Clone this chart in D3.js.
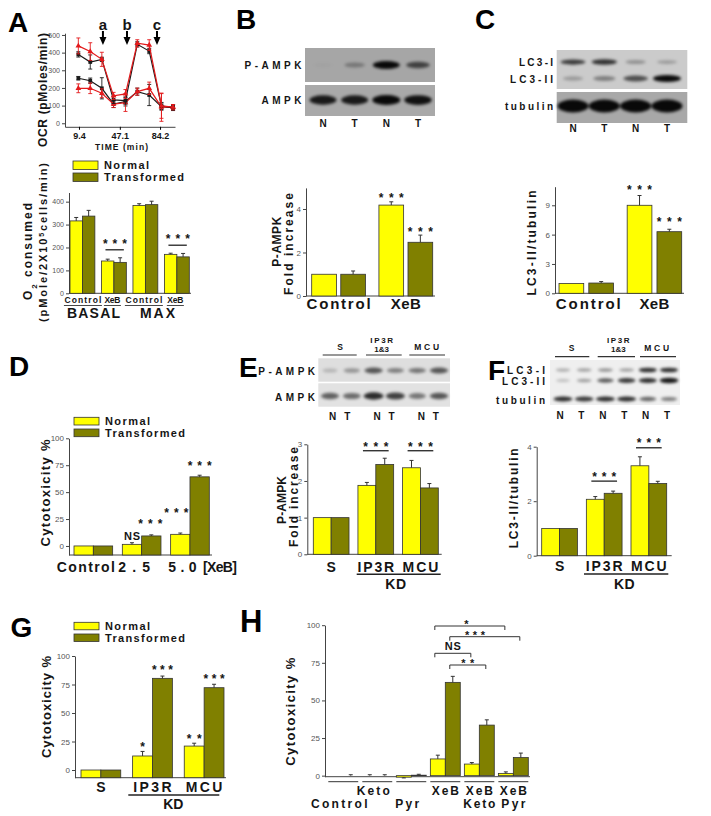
<!DOCTYPE html>
<html><head><meta charset="utf-8">
<script src="https://cdn.jsdelivr.net/npm/d3@7"></script>
<style>
body{margin:0;background:#fff}
svg text{font-family:"Liberation Sans",Arial,Helvetica,sans-serif}
</style>
</head><body>
<svg id="c" width="711" height="816"></svg>
<script>
// ================= DATA =================
// Panel A (top): OCR time course
const ocrTime = [8.8, 19.8, 30.5, 41.3, 52.3, 63.2, 74.2, 85.5, 96.2];
const ocrTicks = [9.4, 47.1, 84.2];
const ocrYTicks = [0, 100, 200, 300, 400, 500];
const ocrBlackHigh = [390, 347, 362, 132, 128, 447, 409, 98, 87];
const ocrBlackHighErr = [15, 40, 12, 20, 20, 15, 15, 20, 15];
const ocrRedHigh = [438, 406, 362, 155, 166, 453, 443, 98, 91];
const ocrRedHighErr = [45, 50, 40, 20, 25, 20, 30, 70, 15];
const ocrBlackLow = [255, 241, 198, 109, 123, 179, 160, 94, 91];
const ocrBlackLowErr = [10, 15, 60, 20, 25, 20, 60, 20, 15];
const ocrRedLow = [198, 198, 170, 109, 117, 179, 198, 91, 91];
const ocrRedLowErr = [25, 30, 25, 20, 50, 20, 35, 80, 15];
const arrowTimes = [31.5, 53.7, 81.4];
const arrowLabels = ["a", "b", "c"];

// Panel A (bottom): O2 consumed
const aGroups = ["BASAL Control", "BASAL XeB", "MAX Control", "MAX XeB"];
const aTickLabels = ["Control", "XeB", "Control", "XeB"];
const aNormal = [316, 141, 383, 170];
const aNormalErr = [15, 8, 8, 5];
const aTrans = [337, 135, 387, 159];
const aTransErr = [25, 20, 15, 15];

// Panel B
const bGroups = ["Control", "XeB"];
const bNormal = [1.0, 4.18];
const bNormalErr = [0, 0.15];
const bTrans = [1.0, 2.47];
const bTransErr = [0.15, 0.33];
const bLanes = ["N", "T", "N", "T"];
const bPAMPK = [0.03, 0.3, 1.0, 0.65];
const bAMPK = [0.9, 0.9, 1.0, 0.95];

// Panel C
const cGroups = ["Control", "XeB"];
const cNormal = [1.0, 9.0];
const cNormalErr = [0, 1.0];
const cTrans = [1.05, 6.3];
const cTransErr = [0.15, 0.25];
const cLanes = ["N", "T", "N", "T"];
const cLC3I = [0.75, 0.8, 0.3, 0.25];
const cLC3II = [0.25, 0.4, 0.65, 1.0];
const cTubulin = [1, 1, 1, 1];

// Panel D
const dGroups = ["Control", "2.5", "5.0"];
const dNormal = [0, 1.5, 10.8];
const dNormalErr = [0, 1.5, 1.2];
const dTrans = [0, 9.3, 64.2];
const dTransErr = [0, 1.0, 1.5];

// Panel E
const kdGroups = ["S", "IP3R", "MCU"];
const eNormal = [1.0, 1.88, 2.36];
const eNormalErr = [0, 0.08, 0.2];
const eTrans = [1.0, 2.45, 1.81];
const eTransErr = [0, 0.17, 0.12];
const eLanes = ["N", "T", "N", "T", "N", "T"];
const ePAMPK = [0.2, 0.35, 0.65, 0.45, 0.5, 0.65];
const eAMPK = [0.6, 0.55, 0.85, 0.75, 0.5, 0.65];

// Panel F
const fNormal = [1.0, 2.07, 3.30];
const fNormalErr = [0, 0.1, 0.33];
const fTrans = [1.0, 2.29, 2.65];
const fTransErr = [0, 0.08, 0.08];
const fLC3I = [0.3, 0.35, 0.4, 0.35, 0.85, 0.85];
const fLC3II = [0.2, 0.35, 0.65, 0.8, 0.85, 0.95];
const fTubulin = [0.85, 0.8, 0.85, 0.85, 0.6, 0.5];

// Panel G
const gNormal = [0, 12.3, 21];
const gNormalErr = [0, 4, 2.5];
const gTrans = [0, 80.4, 72.2];
const gTransErr = [0, 2, 3];

// Panel H
const hGroups = ["Control", "Keto", "Pyr", "XeB", "XeB Keto", "XeB Pyr"];
const hRow1 = ["", "Keto", "", "XeB", "XeB", "XeB"];
const hRow2 = ["Control", "", "Pyr", "", "Keto", "Pyr"];
const hNormal = [0, 0, -1, 11.1, 7.7, 1.5];
const hNormalErr = [0, 0.6, 0.5, 2.5, 1, 1];
const hTrans = [0, 0, 0.3, 62, 33.6, 12];
const hTransErr = [0.6, 0.6, 0.6, 4, 3.5, 3];

const legendLabels = ["Normal", "Transformed"];

// ================= DRAWING =================
const YEL = "#ffff00", OLV = "#808000", INK = "#151515";
const FONT = '"Liberation Sans", Arial, Helvetica, sans-serif';
const svg = d3.select("#c");
const defs = svg.append("defs");
defs.append("filter").attr("id", "blur").attr("x", "-50%").attr("y", "-100%")
  .attr("width", "200%").attr("height", "300%")
  .append("feGaussianBlur").attr("stdDeviation", 1.5);

function txt(g, x, y, s, o = {}) {
  const t = g.append("text")
    .attr("text-anchor", o.anchor || "middle")
    .attr("font-size", o.size || 10)
    .attr("font-weight", o.weight || "bold")
    .attr("fill", o.fill || INK)
    .attr("dy", o.dy || "0.35em");
  if (o.rot) t.attr("transform", `translate(${x},${y}) rotate(-90)`);
  else t.attr("x", x).attr("y", y);
  if (o.parts) {
    o.parts.forEach(p => {
      const ts = t.append("tspan").text(p.t);
      if (p.shift) ts.attr("baseline-shift", p.shift).attr("font-size", p.size);
    });
  } else t.text(s);
  if (o.len) t.attr("textLength", o.len).attr("lengthAdjust", "spacing");
  return t;
}
function line(g, x1, y1, x2, y2, w = 1, c = "#222") {
  return g.append("line").attr("x1", x1).attr("y1", y1).attr("x2", x2).attr("y2", y2)
    .attr("stroke", c).attr("stroke-width", w);
}
function stars(g, x, y, s, len, size = 12) {
  return txt(g, x, y, s, { size, len, dy: "0.58em" });
}
function panelLetter(x, y, s, size = 28) {
  svg.append("text").attr("x", x).attr("y", y).attr("font-size", size)
    .attr("font-weight", "bold").attr("fill", "#000").text(s);
}
function legend(g, x, y1, y2, h) {
  [[y1, YEL], [y2, OLV]].forEach(([yy, c], i) => {
    g.append("rect").attr("x", x).attr("y", yy).attr("width", 25).attr("height", h)
      .attr("fill", c).attr("stroke", "#333").attr("stroke-width", 0.8);
    txt(g, x + 31, yy + h / 2, legendLabels[i], { anchor: "start", size: 11, len: i ? 80 : 45 });
  });
}
function yAxis(g, y, xPos, ticks, fs = 8) {
  const ag = g.append("g").attr("transform", `translate(${xPos},0)`)
    .call(d3.axisLeft(y).tickValues(ticks).tickSize(3).tickSizeOuter(0).tickPadding(2).tickFormat(d3.format("d")));
  ag.attr("font-family", FONT).attr("font-size", fs);
  ag.select(".domain").attr("stroke", "#444");
  ag.selectAll(".tick line").attr("stroke", "#444");
  ag.selectAll(".tick text").attr("fill", "#555");
  return ag;
}
function barChart(o) {
  const g = o.g, y = o.y;
  const x = d3.scaleBand().domain(o.groups).range(o.xr).paddingInner(o.pi).paddingOuter(0);
  const xs = d3.scaleBand().domain(["N", "T"]).range([0, x.bandwidth()]).paddingInner(o.sub || 0);
  yAxis(g, y, o.ax, o.ticks, o.tfs || 8);
  const y0 = y.domain()[0];
  line(g, o.ax, y(y0), o.xEnd, y(y0), 1, "#444");
  const base = o.base !== undefined ? o.base : y0;
  const series = [{ k: "N", v: o.N, e: o.eN, c: YEL }, { k: "T", v: o.T, e: o.eT, c: OLV }];
  series.forEach(s => {
    g.append("g").selectAll("rect").data(o.groups).join("rect")
      .attr("x", d => x(d) + xs(s.k))
      .attr("width", xs.bandwidth())
      .attr("y", (d, i) => Math.min(y(s.v[i]), y(base)))
      .attr("height", (d, i) => Math.abs(y(base) - y(s.v[i])))
      .attr("fill", s.c).attr("stroke", "#333").attr("stroke-width", 0.8);
    o.groups.forEach((d, i) => {
      const e = s.e[i];
      if (!e) return;
      const cx = x(d) + xs(s.k) + xs.bandwidth() / 2;
      const v = s.v[i], v2 = v >= 0 ? v + e : v - e;
      line(g, cx, y(v), cx, y(v2), 1, "#333");
      line(g, cx - 2, y(v2), cx + 2, y(v2), 1, "#333");
    });
  });
  const vals = { N: o.N, T: o.T }, errs = { N: o.eN, T: o.eT };
  return {
    x, xs,
    cx: (i, k) => x(o.groups[i]) + xs(k) + xs.bandwidth() / 2,
    gc: i => x(o.groups[i]) + x.bandwidth() / 2,
    top: (i, k) => y(vals[k][i] + errs[k][i]),
    maxTop: i => Math.min(y(o.N[i] + o.eN[i]), y(o.T[i] + o.eT[i]))
  };
}
function blotBands(g, xPos, vals, cy, w, h) {
  g.append("g").attr("filter", "url(#blur)").selectAll("ellipse").data(vals).join("ellipse")
    .attr("cx", (d, i) => xPos(i)).attr("cy", cy)
    .attr("rx", d => w / 2 * (0.65 + 0.35 * d)).attr("ry", d => h / 2 * (0.5 + 0.5 * d))
    .attr("fill", "#000").attr("fill-opacity", d => Math.min(1, d * 0.95));
}
function rect(g, x, y, w, h, fill) {
  return g.append("rect").attr("x", x).attr("y", y).attr("width", w).attr("height", h).attr("fill", fill);
}

// ---------- Panel A top ----------
{
  const g = svg.append("g");
  panelLetter(8, 32, "A");
  const x = d3.scaleLinear().domain([-3.5, 98]).range([65, 175]);
  const y = d3.scaleLinear().domain([-20, 510]).range([126.8, 33.2]);
  yAxis(g, y, 65, ocrYTicks, 7);
  const xa = g.append("g").attr("transform", "translate(0,126.8)")
    .call(d3.axisBottom(x).tickValues(ocrTicks).tickSize(3).tickSizeOuter(0).tickPadding(3).tickFormat(d3.format(".1f")));
  xa.attr("font-family", FONT).attr("font-size", 9).attr("font-weight", "bold");
  xa.select(".domain").attr("stroke", "#444");
  xa.selectAll(".tick text").attr("fill", INK);
  txt(g, 121.5, 147, "TIME (min)", { size: 8.5, len: 53 });
  txt(g, 42.5, 90, "OCR (pMoles/min)", { size: 12, len: 114, rot: true });
  const series = [
    { v: ocrBlackLow, e: ocrBlackLowErr, c: "#1a1a1a", sym: d3.symbolSquare },
    { v: ocrRedLow, e: ocrRedLowErr, c: "#e31a1c", sym: d3.symbolTriangle },
    { v: ocrBlackHigh, e: ocrBlackHighErr, c: "#1a1a1a", sym: d3.symbolSquare },
    { v: ocrRedHigh, e: ocrRedHighErr, c: "#e31a1c", sym: d3.symbolTriangle }
  ];
  series.forEach(s => {
    s.v.forEach((v, i) => {
      const cx = x(ocrTime[i]);
      line(g, cx, y(v - s.e[i]), cx, y(v + s.e[i]), 0.9, s.c);
      line(g, cx - 2, y(v - s.e[i]), cx + 2, y(v - s.e[i]), 0.9, s.c);
      line(g, cx - 2, y(v + s.e[i]), cx + 2, y(v + s.e[i]), 0.9, s.c);
    });
    g.append("path").datum(s.v)
      .attr("d", d3.line().x((d, i) => x(ocrTime[i])).y(d => y(d)))
      .attr("fill", "none").attr("stroke", s.c).attr("stroke-width", 1.2);
    g.append("g").selectAll("path").data(s.v).join("path")
      .attr("transform", (d, i) => `translate(${x(ocrTime[i])},${y(d)})`)
      .attr("d", d3.symbol().type(s.sym).size(14)).attr("fill", s.c);
  });
  arrowTimes.forEach((t, i) => {
    const ax = x(t);
    txt(g, ax, 25, arrowLabels[i], { size: 15 });
    line(g, ax, 31, ax, 38, 2, "#000");
    g.append("path").attr("d", `M${ax - 3.5},37 L${ax + 3.5},37 L${ax},45 Z`).attr("fill", "#000");
  });
}

// ---------- Panel A bottom ----------
{
  const g = svg.append("g");
  legend(g, 73, 161, 173, 8.5);
  const y = d3.scaleLinear().domain([0, 440]).range([293.3, 192.5]);
  const r = barChart({ g, groups: aGroups, N: aNormal, T: aTrans, eN: aNormalErr, eT: aTransErr,
    y, xr: [70, 189.3], pi: 0.21, sub: 0, ax: 69, xEnd: 191, ticks: [0, 100, 200, 300, 400], tfs: 7 });
  [1, 3].forEach(i => {
    const ly = r.maxTop(i) - 8;
    const x0 = r.x(aGroups[i]);
    line(g, x0 + 4, ly, x0 + r.x.bandwidth() - 2.5, ly, 1.3, "#222");
    stars(g, r.gc(i) + 1, ly - 9, "* * *", 24, 12);
  });
  aGroups.forEach((d, i) => {
    const c = i === 0 ? r.gc(i) + 0.5 : r.gc(i) - 1.5;
    const w = i % 2 ? 16 : 37;
    txt(g, c, 300.5, aTickLabels[i], { size: 8.5, len: w });
    line(g, c - w / 2 - 0.5, 305.5, c + w / 2 + 0.5, 305.5, 0.9, "#333");
  });
  txt(g, 93.5, 313.5, "BASAL", { size: 14, len: 53 });
  txt(g, 157.5, 313.5, "MAX", { size: 14, len: 35 });
  txt(g, 28, 251.5, null, { size: 12, len: 97, rot: true,
    parts: [{ t: "O" }, { t: "2", shift: "sub", size: 8 }, { t: " consumed" }] });
  txt(g, 43.5, 242.5, null, { size: 11, len: 159, rot: true,
    parts: [{ t: "(pMole/2X10" }, { t: "5", shift: "super", size: 7 }, { t: "cells/min)" }] });
}

// ---------- Panel B ----------
{
  const g = svg.append("g");
  panelLetter(236, 29, "B");
  rect(g, 305, 48, 130, 34, "#a6a6a6");
  rect(g, 305, 85, 130, 31, "#a9a9a9");
  const lx = d3.scalePoint().domain(d3.range(bLanes.length)).range([323, 418]);
  blotBands(g, lx, bPAMPK, 65, 27, 8);
  blotBands(g, lx, bAMPK, 100, 28, 10);
  txt(g, 301.5, 65, "P-AMPK", { anchor: "end", size: 10, len: 57 });
  txt(g, 301.5, 100, "AMPK", { anchor: "end", size: 10, len: 40 });
  bLanes.forEach((l, i) => txt(g, lx(i), 123, l, { size: 10 }));
  const y = d3.scaleLinear().domain([0, 4.97]).range([296, 187.9]);
  const r = barChart({ g, groups: bGroups, N: bNormal, T: bTrans, eN: bNormalErr, eT: bTransErr,
    y, xr: [311.7, 432.7], pi: 0.2, sub: 0.15, ax: 306, xEnd: 435, ticks: [0, 2, 4] });
  stars(g, r.cx(1, "N"), r.top(1, "N") - 7, "* * *", 25);
  stars(g, r.cx(1, "T"), r.top(1, "T") - 6, "* * *", 25);
  txt(g, r.gc(0), 304, "Control", { size: 15, len: 64 });
  txt(g, r.gc(1), 304, "XeB", { size: 15, len: 30 });
  txt(g, 276.7, 241.7, "P-AMPK", { size: 12, len: 50, rot: true });
  txt(g, 288.5, 244, "Fold increase", { size: 12, len: 102, rot: true });
}

// ---------- Panel C ----------
{
  const g = svg.append("g");
  panelLetter(475, 29, "C");
  rect(g, 556.7, 50, 130.6, 39, "#cbcbcb");
  rect(g, 556.7, 92, 130.6, 31, "#a8a8a8");
  const lx = d3.scalePoint().domain(d3.range(cLanes.length)).range([573, 667]);
  blotBands(g, lx, cLC3I, 62, 27, 6);
  blotBands(g, lx, cLC3II, 78.5, 28, 7);
  blotBands(g, lx, cTubulin, 106, 31, 13);
  txt(g, 553, 62, "LC3-I", { anchor: "end", size: 10, len: 34 });
  txt(g, 553, 79, "LC3-II", { anchor: "end", size: 10, len: 43 });
  txt(g, 553, 106, "tubulin", { anchor: "end", size: 10, len: 48 });
  cLanes.forEach((l, i) => txt(g, lx(i), 128, l, { size: 10 }));
  const y = d3.scaleLinear().domain([0, 10.9]).range([293.3, 186.7]);
  const r = barChart({ g, groups: cGroups, N: cNormal, T: cTrans, eN: cNormalErr, eT: cTransErr,
    y, xr: [559, 681.7], pi: 0.2, sub: 0.17, ax: 555, xEnd: 684, ticks: [0, 3, 6, 9] });
  stars(g, r.cx(1, "N"), r.top(1, "N") - 8.5, "* * *", 25);
  stars(g, r.cx(1, "T"), r.top(1, "T") - 10, "* * *", 25);
  txt(g, r.gc(0) + 2, 304, "Control", { size: 15, len: 65 });
  txt(g, r.gc(1), 304, "XeB", { size: 15, len: 30 });
  txt(g, 531.7, 243, "LC3-II/tubulin", { size: 12, len: 105, rot: true });
}

// ---------- Panel D ----------
{
  const g = svg.append("g");
  panelLetter(9, 376, "D");
  legend(g, 74, 417.3, 429, 7.7);
  const y = d3.scaleLinear().domain([-8.4, 100]).range([555, 438.3]);
  const r = barChart({ g, groups: dGroups, N: dNormal, T: dTrans, eN: dNormalErr, eT: dTransErr,
    y, xr: [74, 209.3], pi: 0.2, sub: 0, ax: 69, xEnd: 212, ticks: [0, 25, 50, 75, 100], tfs: 8 });
  txt(g, r.cx(1, "N"), r.top(1, "N") - 7, "NS", { size: 11, len: 16 });
  stars(g, r.cx(1, "T") - 1, r.top(1, "T") - 14, "* * *", 24);
  stars(g, r.cx(2, "N") - 4, r.top(2, "N") - 23, "* * *", 24);
  stars(g, r.cx(2, "T"), r.top(2, "T") - 12, "* * *", 24);
  const lw = [58, 31.7, 28.4];
  dGroups.forEach((d, i) => txt(g, r.gc(i) - 7.5, 566.7, d, { size: 14, len: lw[i] }));
  txt(g, 220, 566.7, "[XeB]", { size: 14, len: 34 });
  txt(g, 45, 493, "Cytotoxicity %", { size: 13, len: 107, rot: true });
}

// ---------- Panel E ----------
{
  const g = svg.append("g");
  panelLetter(239, 377, "E");
  const hdr = [{ x: 340, t: ["S"], l: [322.7, 356.7] }, { x: 381.7, t: ["IP3R", "1&3"], l: [366, 401.7] }, { x: 426.7, t: ["MCU"], l: [409.3, 445] }];
  hdr.forEach(h => {
    if (h.t.length === 2) { txt(g, h.x, 340.3, h.t[0], { size: 8, len: 22.7 }); txt(g, h.x, 348.8, h.t[1], { size: 8 }); }
    else txt(g, h.x, 347, h.t[0], { size: 8.5, len: h.t[0].length > 1 ? 25 : null });
    line(g, h.l[0], 355, h.l[1], 355, 1.2, "#333");
  });
  rect(g, 318.3, 358.3, 131.7, 23.4, "#dedede");
  rect(g, 318.3, 383.3, 131.7, 23.4, "#e2e2e2");
  const bx = d3.scalePoint().domain(d3.range(eLanes.length)).range([330, 439]);
  blotBands(g, bx, ePAMPK, 370.5, 21, 7);
  blotBands(g, bx, eAMPK, 396, 21, 8);
  txt(g, 315, 371, "P-AMPK", { anchor: "end", size: 10, len: 56.7 });
  txt(g, 315, 397.7, "AMPK", { anchor: "end", size: 10, len: 40 });
  const gp = d3.scalePoint().domain(kdGroups).range([339.7, 428.3]);
  eLanes.forEach((l, i) => txt(g, gp(kdGroups[Math.floor(i / 2)]) + (i % 2 ? 7.5 : -7), 416.7, l, { size: 10 }));
  const y = d3.scaleLinear().domain([0, 3]).range([554.3, 444.3]);
  const r = barChart({ g, groups: kdGroups, N: eNormal, T: eTrans, eN: eNormalErr, eT: eTransErr,
    y, xr: [313.3, 438.3], pi: 0.2, sub: 0, ax: 307.3, xEnd: 441.7, ticks: [0, 1, 2, 3] });
  [[1, 7.5], [2, 9.7]].forEach(([i, off]) => {
    const ly = r.maxTop(i) - off;
    const x0 = r.x(kdGroups[i]);
    line(g, x0 + 5, ly, x0 + r.x.bandwidth() - 5, ly, 1.3, "#222");
    stars(g, r.gc(i), ly - 6.5, "* * *", 25);
  });
  txt(g, r.gc(0), 566.7, "S", { size: 14 });
  txt(g, r.gc(1), 566.7, "IP3R", { size: 14, len: 36.7 });
  txt(g, r.gc(2), 566.7, "MCU", { size: 14, len: 35.7 });
  line(g, 356.7, 574.3, 440.7, 574.3, 1.4, "#222");
  txt(g, 395.7, 584.3, "KD", { size: 14, len: 20.7 });
  txt(g, 281.7, 500, "P-AMPK", { size: 12, len: 48, rot: true });
  txt(g, 293.3, 497, "Fold increase", { size: 12, len: 100, rot: true });
}

// ---------- Panel F ----------
{
  const g = svg.append("g");
  panelLetter(488, 380, "F");
  const hdr = [{ x: 571.7, t: ["S"], l: [555, 589.3] }, { x: 618.3, t: ["IP3R", "1&3"], l: [597.7, 635] }, { x: 656.7, t: ["MCU"], l: [640, 676] }];
  hdr.forEach(h => {
    if (h.t.length === 2) { txt(g, h.x, 340.3, h.t[0], { size: 8, len: 22.7 }); txt(g, h.x, 348.8, h.t[1], { size: 8 }); }
    else txt(g, h.x, 348.3, h.t[0], { size: 8.5, len: h.t[0].length > 1 ? 25 : null });
    line(g, h.l[0], 356.7, h.l[1], 356.7, 1.2, "#333");
  });
  rect(g, 550, 360, 130, 45, "#efefef");
  const bx = d3.scalePoint().domain(d3.range(eLanes.length)).range([563, 669]);
  blotBands(g, bx, fLC3I, 370, 19, 5);
  blotBands(g, bx, fLC3II, 380.5, 19, 5.5);
  blotBands(g, bx, fTubulin, 399, 20, 5.5);
  txt(g, 545, 370, "LC3-I", { anchor: "end", size: 10, len: 38 });
  txt(g, 545, 381.7, "LC3-II", { anchor: "end", size: 10, len: 43 });
  txt(g, 545, 400, "tubulin", { anchor: "end", size: 10, len: 49 });
  const lx = d3.scalePoint().domain(d3.range(eLanes.length)).range([560, 667]);
  eLanes.forEach((l, i) => txt(g, lx(i), 415, l, { size: 10 }));
  const y = d3.scaleLinear().domain([0, 4]).range([555.7, 446.7]);
  const r = barChart({ g, groups: kdGroups, N: fNormal, T: fTrans, eN: fNormalErr, eT: fTransErr,
    y, xr: [541.7, 666.7], pi: 0.2, sub: 0, ax: 536.7, xEnd: 671.7, ticks: [0, 2, 4] });
  [[1, 10], [2, 9]].forEach(([i, off]) => {
    const ly = r.maxTop(i) - off;
    const x0 = r.x(kdGroups[i]);
    line(g, x0 + 5, ly, x0 + r.x.bandwidth() - 5, ly, 1.3, "#222");
    stars(g, r.gc(i), ly - 7.5, "* * *", 24);
  });
  txt(g, r.gc(0), 566, "S", { size: 14 });
  txt(g, r.gc(1), 566, "IP3R", { size: 14, len: 36.7 });
  txt(g, r.gc(2), 566, "MCU", { size: 14, len: 35.7 });
  line(g, 584, 574, 668.3, 574, 1.4, "#222");
  txt(g, 624.3, 584, "KD", { size: 14, len: 20.7 });
  txt(g, 513.3, 498.3, "LC3-II/tubulin", { size: 12, len: 100, rot: true });
}

// ---------- Panel G ----------
{
  const g = svg.append("g");
  panelLetter(10.5, 637, "G");
  legend(g, 74, 622.3, 634, 7.5);
  const y = d3.scaleLinear().domain([-6.75, 100]).range([777.7, 656]);
  const r = barChart({ g, groups: kdGroups, N: gNormal, T: gTrans, eN: gNormalErr, eT: gTransErr,
    y, xr: [81, 224], pi: 0.23, sub: 0, ax: 75, xEnd: 226, ticks: [0, 25, 50, 75, 100] });
  stars(g, r.cx(1, "N"), r.top(1, "N") - 7.5, "*", null);
  stars(g, r.cx(1, "T"), r.top(1, "T") - 9.5, "* * *", 21);
  stars(g, r.cx(2, "N"), r.top(2, "N") - 7.5, "* *", 15);
  stars(g, r.cx(2, "T"), r.top(2, "T") - 8.3, "* * *", 21);
  txt(g, r.gc(0), 786.7, "S", { size: 14 });
  txt(g, r.gc(1), 786.7, "IP3R", { size: 14, len: 38.3 });
  txt(g, r.gc(2), 786.7, "MCU", { size: 14, len: 36.7 });
  line(g, 128.3, 795, 219.3, 795, 1.4, "#222");
  txt(g, 173.3, 804, "KD", { size: 14, len: 20 });
  txt(g, 46.7, 707, "Cytotoxicity %", { size: 13, len: 102, rot: true });
}

// ---------- Panel H ----------
{
  const g = svg.append("g");
  panelLetter(240, 632, "H", 31);
  const y = d3.scaleLinear().domain([-0.7, 100]).range([776.7, 625.2]);
  const r = barChart({ g, groups: hGroups, N: hNormal, T: hTrans, eN: hNormalErr, eT: hTransErr,
    y, xr: [328.3, 528.3], pi: 0.12, sub: 0, ax: 325, xEnd: 530, ticks: [0, 25, 50, 75, 100], base: 0 });
  hGroups.forEach((d, i) => {
    const x0 = r.x(d);
    line(g, x0, 781.7, x0 + r.x.bandwidth(), 781.7, 1, "#333");
    const c = r.gc(i) - (i < 3 ? 4 : 0);
    if (hRow1[i]) txt(g, c, 791.2, hRow1[i], { size: 12, len: hRow1[i] === "Keto" ? 33 : 27 });
    if (hRow2[i]) txt(g, c, 803.8, hRow2[i], { size: 12, len: hRow2[i] === "Control" ? 56.7 : hRow2[i] === "Keto" ? 32 : 24 });
  });
  const brackets = [
    { a: [3, "N"], b: [5, "N"], y: 626, t: "*", len: null, f: 0.45 },
    { a: [3, "T"], b: [5, "T"], y: 636.7, t: "* * *", len: 20, f: 0.36 },
    { a: [3, "N"], b: [4, "N"], y: 653.3, t: "NS", len: 16, f: 0.5 },
    { a: [3, "T"], b: [4, "T"], y: 665, t: "* *", len: 13, f: 0.5 }
  ];
  brackets.forEach(b => {
    const x1 = r.cx(b.a[0], b.a[1]) - 3, x2 = r.cx(b.b[0], b.b[1]) - 1;
    g.append("path").attr("d", `M${x1},${b.y + 4}V${b.y}H${x2}V${b.y + 4}`)
      .attr("fill", "none").attr("stroke", "#333").attr("stroke-width", 1);
    const xm = x1 + b.f * (x2 - x1);
    if (b.t === "NS") txt(g, xm, b.y - 7, "NS", { size: 11, len: 16 });
    else stars(g, xm, b.y - 4.5, b.t, b.len, 11);
  });
  txt(g, 290, 711.7, "Cytotoxicity %", { size: 13, len: 108, rot: true });
}
</script>
</body></html>
